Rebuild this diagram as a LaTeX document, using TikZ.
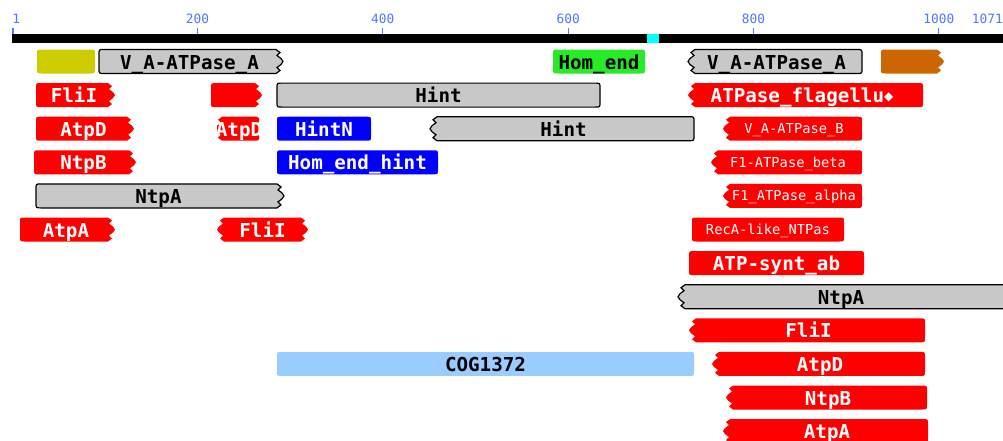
\documentclass[tikz,border=0pt]{standalone}
\usepackage{fontspec}
\setmonofont{DejaVu Sans Mono}
\newfontfamily\dvsans{DejaVu Sans}
\definecolor{gfill}{RGB}{200,200,200}
\definecolor{hred}{RGB}{255,0,0}
\definecolor{hblue}{RGB}{0,0,255}
\definecolor{hgreen}{RGB}{40,235,40}
\definecolor{hyellow}{RGB}{204,204,0}
\definecolor{horange}{RGB}{204,102,0}
\definecolor{hlblue}{RGB}{153,204,255}
\definecolor{hcyan}{RGB}{0,255,255}
\definecolor{rulerblue}{RGB}{80,120,255}
% right edge, rounded (top -> bottom)
\newcommand\RR[3]{-- ({#1-5},{#2}) .. controls ({#1},{#2}) .. ({#1},{#2+5}) -- ({#1},{#3-5}) .. controls ({#1},{#3}) .. ({#1-5},{#3})}
% right edge, jagged (top -> bottom)
\newcommand\RJ[3]{-- ({#1-3},{#2}) -- ({#1+1},{#2+3}) -- ({#1-2},{#2+6}) -- ({#1+2},{#2+9}) -- ({#1+4},{(#2+#3)/2}) -- ({#1+2},{#3-9}) -- ({#1-2},{#3-6}) -- ({#1+1},{#3-3}) -- ({#1-3},{#3})}
% left edge, rounded (bottom -> top)
\newcommand\LR[3]{-- ({#1+5},{#3}) .. controls ({#1},{#3}) .. ({#1},{#3-5}) -- ({#1},{#2+5}) .. controls ({#1},{#2}) .. ({#1+5},{#2})}
% left edge, jagged (bottom -> top)
\newcommand\LJ[3]{-- ({#1+3},{#3}) -- ({#1-1},{#3-3}) -- ({#1+2},{#3-6}) -- ({#1-2},{#3-9}) -- ({#1-4},{(#2+#3)/2}) -- ({#1-2},{#2+9}) -- ({#1+2},{#2+6}) -- ({#1-1},{#2+3}) -- ({#1+3},{#2})}
% domain: x1, x2, yc, style, left edge, right edge
\newcommand\dom[6]{%
  \pgfmathsetmacro\dT{#3-12}\pgfmathsetmacro\dB{#3+12}%
  \path[#4] ({(#1+#2)/2},{\dT}) #6{#2}{\dT}{\dB} #5{#1}{\dT}{\dB} -- cycle;}
\tikzset{
  graydom/.style={fill=gfill, draw=black, line width=0.9pt},
  reddom/.style={fill=hred},
  bluedom/.style={fill=hblue},
  lbl/.style={font=\ttfamily\bfseries\fontsize{14.4}{14.4}\selectfont, inner sep=0pt, anchor=base, text=black},
  wlbl/.style={lbl, text=white},
  slbl/.style={font=\ttfamily\fontsize{10.3}{10.3}\selectfont, inner sep=0pt, anchor=base, text=white},
  rlbl/.style={font=\ttfamily\fontsize{9.6}{9.6}\selectfont, inner sep=0pt, text=rulerblue},
  tick/.style={draw=rulerblue, line width=0.8pt}
}
\begin{document}
\begin{tikzpicture}[x=0.75pt,y=-0.75pt]
\clip (0,0) rectangle (1003,440);
\fill[white] (0,0) rectangle (1003,440);
% ruler
\fill[black] (12,34) rectangle (1003,43);
\fill[hcyan] (647,34) rectangle (659,43);
\foreach \v/\x in {1/13,200/197.5,400/382.8,600/568.2,800/753.5,1000/938.9}
  \draw[tick] (\x,28) -- (\x,34);
\node[rlbl, anchor=base west] (t1) at (12,23.5) {1};
\node[rlbl, anchor=base] (t200) at (197.5,23.5) {200};
\node[rlbl, anchor=base] (t400) at (382.8,23.5) {400};
\node[rlbl, anchor=base] (t600) at (568.2,23.5) {600};
\node[rlbl, anchor=base] (t800) at (753.5,23.5) {800};
\node[rlbl, anchor=base] (t1000) at (938.9,23.5) {1000};
\node[rlbl, anchor=base east] (t1071) at (1003,23.5) {1071};

% row 1
\dom{37}{95}{61.5}{fill=hyellow}{\LR}{\RR}
\dom{99}{279}{61.5}{graydom}{\LR}{\RJ}
\node[lbl] (a1) at (189.5,69) {V\_A-ATPase\_A};
\dom{553}{645}{61.5}{fill=hgreen}{\LR}{\RR}
\node[lbl] (a2) at (599,69) {Hom\_end};
\dom{692}{862}{61.5}{graydom}{\LJ}{\RR}
\node[lbl] (a3) at (776.5,69) {V\_A-ATPase\_A};
\dom{881}{940}{61.5}{fill=horange}{\LR}{\RJ}

% row 2
\dom{36}{111}{95.1}{reddom}{\LR}{\RJ}
\node[wlbl] (b1) at (74,102.6) {FliI};
\dom{211}{258}{95.1}{reddom}{\LR}{\RJ}
\dom{277}{600}{95.1}{graydom}{\LR}{\RR}
\node[lbl] (b2) at (438.5,102.6) {Hint};
\dom{692}{923}{95.1}{reddom}{\LJ}{\RR}
\node[wlbl] (b3) at (802,102.6) {ATPase\_flagellu{\dvsans\fontsize{9}{9}\selectfont\raisebox{1.5pt}{◆}}};

% row 3
\dom{36}{130}{128.7}{reddom}{\LR}{\RJ}
\node[wlbl] (c1) at (83.5,136.2) {AtpD};
\begin{scope}
\clip (217,115) rectangle (259,142);
\dom{219}{260}{128.7}{reddom}{\LJ}{\RJ}
\node[wlbl] (c2) at (239,136.2) {AtpD};
\end{scope}
\dom{277}{371}{128.7}{bluedom}{\LR}{\RR}
\node[wlbl] (c3) at (324,136.2) {HintN};
\dom{434}{694}{128.7}{graydom}{\LJ}{\RR}
\node[lbl] (c4) at (563.5,136.2) {Hint};
\dom{727}{862}{128.7}{reddom}{\LJ}{\RR}
\node[slbl] (c5) at (794,133.7) {V\_A-ATPase\_B};

% row 4
\dom{34}{132}{162.3}{reddom}{\LR}{\RJ}
\node[wlbl] (d1) at (83.5,169.8) {NtpB};
\dom{277}{438}{162.3}{bluedom}{\LR}{\RR}
\node[wlbl] (d2) at (357.5,169.8) {Hom\_end\_hint};
\dom{715}{862}{162.3}{reddom}{\LJ}{\RR}
\node[slbl] (d3) at (788,167.3) {F1-ATPase\_beta};

% row 5
\dom{36}{280}{195.9}{graydom}{\LR}{\RJ}
\node[lbl] (e1) at (158.5,203.4) {NtpA};
\dom{727}{862}{195.9}{reddom}{\LJ}{\RR}
\node[slbl] (e2) at (794,200.9) {F1\_ATPase\_alpha};

% row 6
\dom{20}{111}{229.5}{reddom}{\LR}{\RJ}
\node[wlbl] (f1) at (66,237) {AtpA};
\dom{221}{304}{229.5}{reddom}{\LJ}{\RJ}
\node[wlbl] (f2) at (262.5,237) {FliI};
\dom{692}{844}{229.5}{reddom}{\LR}{\RR}
\node[slbl] (f3) at (768,234.5) {RecA-like\_NTPas};

% row 7
\dom{689}{864}{263.1}{reddom}{\LR}{\RR}
\node[wlbl] (g1) at (776.5,270.6) {ATP-synt\_ab};

% row 8
\dom{682}{1020}{296.7}{graydom}{\LJ}{\RR}
\node[lbl] (h1) at (841,304.2) {NtpA};

% row 9
\dom{693}{925}{330.3}{reddom}{\LJ}{\RR}
\node[wlbl] (i1) at (808.5,337.8) {FliI};

% row 10
\dom{277}{694}{363.9}{fill=hlblue}{\LR}{\RR}
\node[lbl] (j1) at (485.5,371.4) {COG1372};
\dom{716}{925}{363.9}{reddom}{\LJ}{\RR}
\node[wlbl] (j2) at (820,371.4) {AtpD};

% row 11
\dom{730}{927}{397.5}{reddom}{\LJ}{\RR}
\node[wlbl] (k1) at (828,405) {NtpB};

% row 12
\dom{727}{928}{431.1}{reddom}{\LJ}{\RR}
\node[wlbl] (l1) at (827,438.6) {AtpA};
\end{tikzpicture}
\end{document}
